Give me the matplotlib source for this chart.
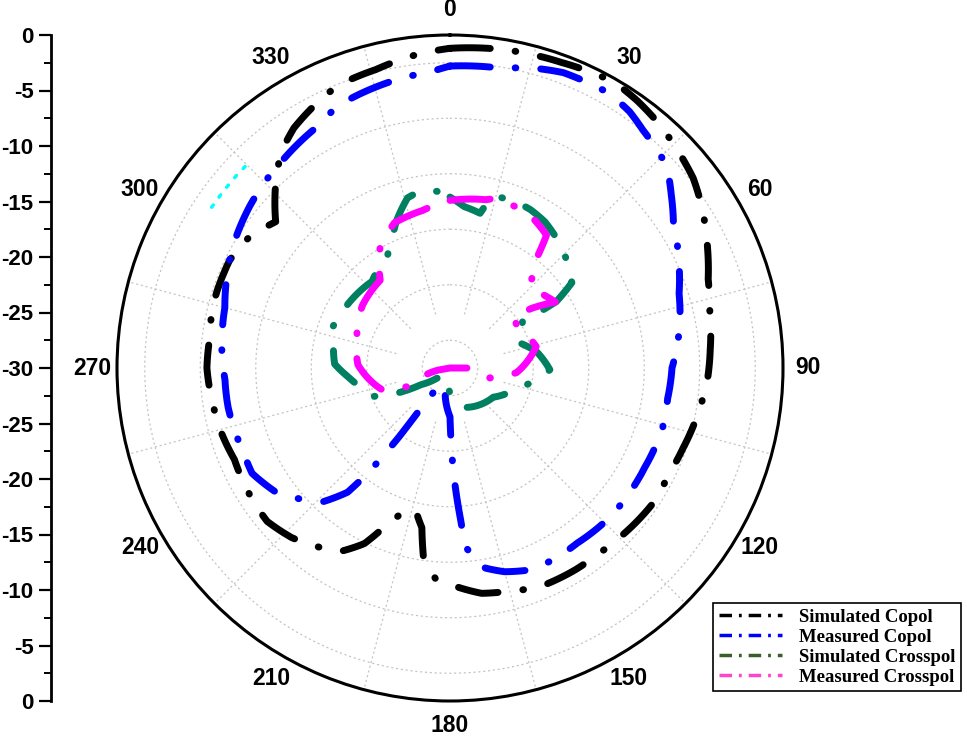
import numpy as np
import matplotlib
matplotlib.use("Agg")
import matplotlib.pyplot as plt
from matplotlib.lines import Line2D

# --- Data (angle in degrees, level in dB) ---
sim_co_deg = [0, 10, 20, 30, 35, 40, 47, 52, 57, 65, 71, 77, 86, 93, 99, 109, 116, 123,
              135, 142, 148, 158, 165, 172, 180, 184, 188, 190, 193, 196, 199, 202, 206,
              211, 223, 230, 236, 247, 254, 261, 270, 278, 284, 296, 303, 310, 317, 322,
              327, 336, 341, 346, 354, 360]
sim_co_db = [-1.2, -0.9, -0.7, -0.3, -0.6, -1.0, -1.7, -2.2, -3.0, -4.4, -5.4, -6.0, -6.5,
             -6.8, -7.2, -7.8, -8.1, -8.0, -8.4, -8.6, -8.6, -8.7, -9.2, -9.5, -10.5, -11.0,
             -12.8, -15.4, -16.6, -16.8, -16.0, -14.8, -12.4, -10.7, -9.1, -8.5, -8.6, -8.9,
             -8.6, -8.4, -8.1, -8.2, -7.9, -7.9, -8.4, -9.5, -7.0, -5.3, -4.2, -2.9, -2.5,
             -2.3, -1.6, -1.2]

meas_co_deg = [0, 10, 15, 21, 30, 35, 39, 47, 52, 57, 66, 72, 79, 90, 98, 106, 117, 125,
               133, 144, 151, 158, 165, 170, 175, 176, 178, 179, 180, 190, 205, 214, 216,
               216.5, 218, 219.5, 223.5, 234, 242, 248, 260, 267, 274, 285, 292, 299, 309,
               316, 322, 331, 337, 342, 351, 356, 360]
meas_co_db = [-2.8, -2.6, -2.0, -1.5, -1.4, -1.8, -2.4, -3.3, -4.7, -6.0, -7.4, -8.3, -8.9,
              -10.0, -10.2, -10.1, -10.3, -10.3, -10.3, -10.5, -10.4, -10.4, -11.0, -11.7,
              -13.8, -16.3, -20.4, -22.9, -25.6, -27.5, -28.4, -27.8, -25.0, -22.3, -18.0,
              -15.5, -13.4, -10.8, -9.8, -9.9, -9.7, -9.7, -9.4, -9.0, -8.3, -7.6, -6.8,
              -6.3, -5.9, -5.2, -4.3, -4.0, -3.5, -3.3, -2.8]

sim_x_deg = [0, 5, 11, 14, 22, 27, 33, 43, 49, 55, 58, 58, 57, 69, 80, 91, 102, 112, 124,
             159, 176, 188, 215, 232, 240, 245, 250, 257, 265, 272, 281, 289, 300, 309, 318,
             331, 336, 340, 346, 351, 357, 360]
sim_x_db = [-14.6, -15.4, -15.8, -14.0, -13.9, -14.0, -14.3, -15.2, -15.9, -16.6, -18.7,
            -20.6, -22.2, -23.5, -22.0, -21.0, -22.9, -24.2, -25.3, -26.2, -27.3, -28.6,
            -29.2, -28.5, -27.0, -24.5, -22.5, -21.9, -20.8, -19.6, -19.3, -18.8, -19.1,
            -19.3, -19.5, -18.4, -17.2, -15.9, -14.2, -13.8, -14.1, -14.6]

meas_x_deg = [0, 12, 15, 27, 36, 39, 45, 52, 58, 54, 51, 59, 76, 94, 104, 90, 90, 260, 260,
              246, 252, 272, 289.5, 305.6, 321.5, 329.7, 339, 350, 360]
meas_x_db = [-14.9, -14.5, -14.2, -14.4, -15.2, -18.1, -19.8, -19.3, -18.8, -20.8, -22.7,
             -22.9, -22.0, -24.0, -26.3, -28.5, -30.0, -30.0, -28.9, -26.0, -23.6, -21.7,
             -21.1, -20.3, -19.9, -17.5, -16.0, -15.6, -14.9]

# small cyan fragment near 310 deg
extra_deg = [304, 308, 312, 316]
extra_db = [-4.1, -4.1, -4.1, -4.1]

series_names = ["Simulated Copol", "Measured Copol", "Simulated Crosspol", "Measured Crosspol"]
line_colors = ["black", "#0000ff", "#008060", "#ff00ff"]
legend_colors = ["black", "#0000ff", "#3b5e2b", "#ff44cc"]

angle_labels = [str(a) for a in range(0, 360, 30)]
left_labels = ["0", "-5", "-10", "-15", "-20", "-25", "-30",
               "-25", "-20", "-15", "-10", "-5", "0"]

plt.rcParams['lines.scale_dashes'] = False
W, H = 967, 738
fig = plt.figure(figsize=(W / 100, H / 100), dpi=100)

cx, cy, R = 450, 368, 333
ax = fig.add_axes([(cx - R) / W, (H - cy - R) / H, 2 * R / W, 2 * R / H], projection='polar')
ax.set_theta_zero_location('N')
ax.set_theta_direction(-1)
ax.set_ylim(-30, 0)
ax.grid(False)
ax.set_yticks([])

# dotted grid: circles and spokes
th = np.linspace(0, 2 * np.pi, 721)
for rr in np.arange(-27.5, 0, 5):
    ax.plot(th, np.full_like(th, rr), color="#c4c4c4", lw=0.9, ls=(0, (1.5, 2)), zorder=1)
for a in range(15, 360, 30):
    ax.plot([np.deg2rad(a)] * 2, [-25, 0], color="#c4c4c4", lw=0.9, ls=(0, (1.5, 2)), zorder=1)

dash = (0, (29, 18, 0.5, 18))
data = [(sim_co_deg, sim_co_db), (meas_co_deg, meas_co_db),
        (sim_x_deg, sim_x_db), (meas_x_deg, meas_x_db)]
for (d, v), c in zip(data, line_colors):
    ln, = ax.plot(np.deg2rad(d), v, color=c, lw=5, ls=dash, dash_capstyle='round',
                  solid_capstyle='round', zorder=3)
    # draw segments as arcs in polar space, like the original software
    ln.get_path()._interpolation_steps = 12
ax.plot(np.deg2rad(extra_deg), extra_db, color="#00ffff", lw=2.5, ls=(0, (2, 7)),
        dash_capstyle='round', zorder=3)

ax.spines['polar'].set_linewidth(2.2)
ax.set_xticks(np.deg2rad(range(0, 360, 30)))
ax.set_xticklabels(angle_labels, fontsize=16.5, fontweight='bold', family='Liberation Sans')
ax.set_xticks(np.deg2rad(range(15, 360, 30)), minor=True)
ax.tick_params(axis='x', which='major', direction='in', length=10, width=1.8, pad=11)
ax.tick_params(axis='x', which='minor', direction='in', length=6, width=1.4)

# left radial scale
ax2 = fig.add_axes([51 / W, (H - cy - R) / H, 0.0001, 2 * R / H])
ax2.set_ylim(-30, 30)
for s in ['top', 'right', 'bottom']:
    ax2.spines[s].set_visible(False)
ax2.spines['left'].set_linewidth(2)
ax2.set_xticks([])
ax2.set_yticks(np.arange(30, -31, -5))
ax2.set_yticklabels(left_labels, fontsize=16, fontweight='bold', family='Liberation Sans')
ax2.set_yticks(np.arange(-27.5, 30, 5), minor=True)
ax2.tick_params(axis='y', which='major', length=8.5, width=1.6, pad=4)
ax2.tick_params(axis='y', which='minor', length=5, width=1.4)

handles = [Line2D([], [], color=c, lw=2.5, ls=(0, (9, 5, 2, 5))) for c in legend_colors]
leg = fig.legend(handles, series_names, loc='upper left',
                 bbox_to_anchor=(713 / W, 1 - 603 / H),
                 prop={'family': 'Liberation Serif', 'weight': 'bold', 'size': 13.5},
                 frameon=True, fancybox=False, edgecolor='black', framealpha=1,
                 handlelength=3.4, handletextpad=0.9, labelspacing=0.15,
                 borderpad=0.3, borderaxespad=0)
leg.get_frame().set_linewidth(1.2)

fig.savefig("out.png", dpi=100)
